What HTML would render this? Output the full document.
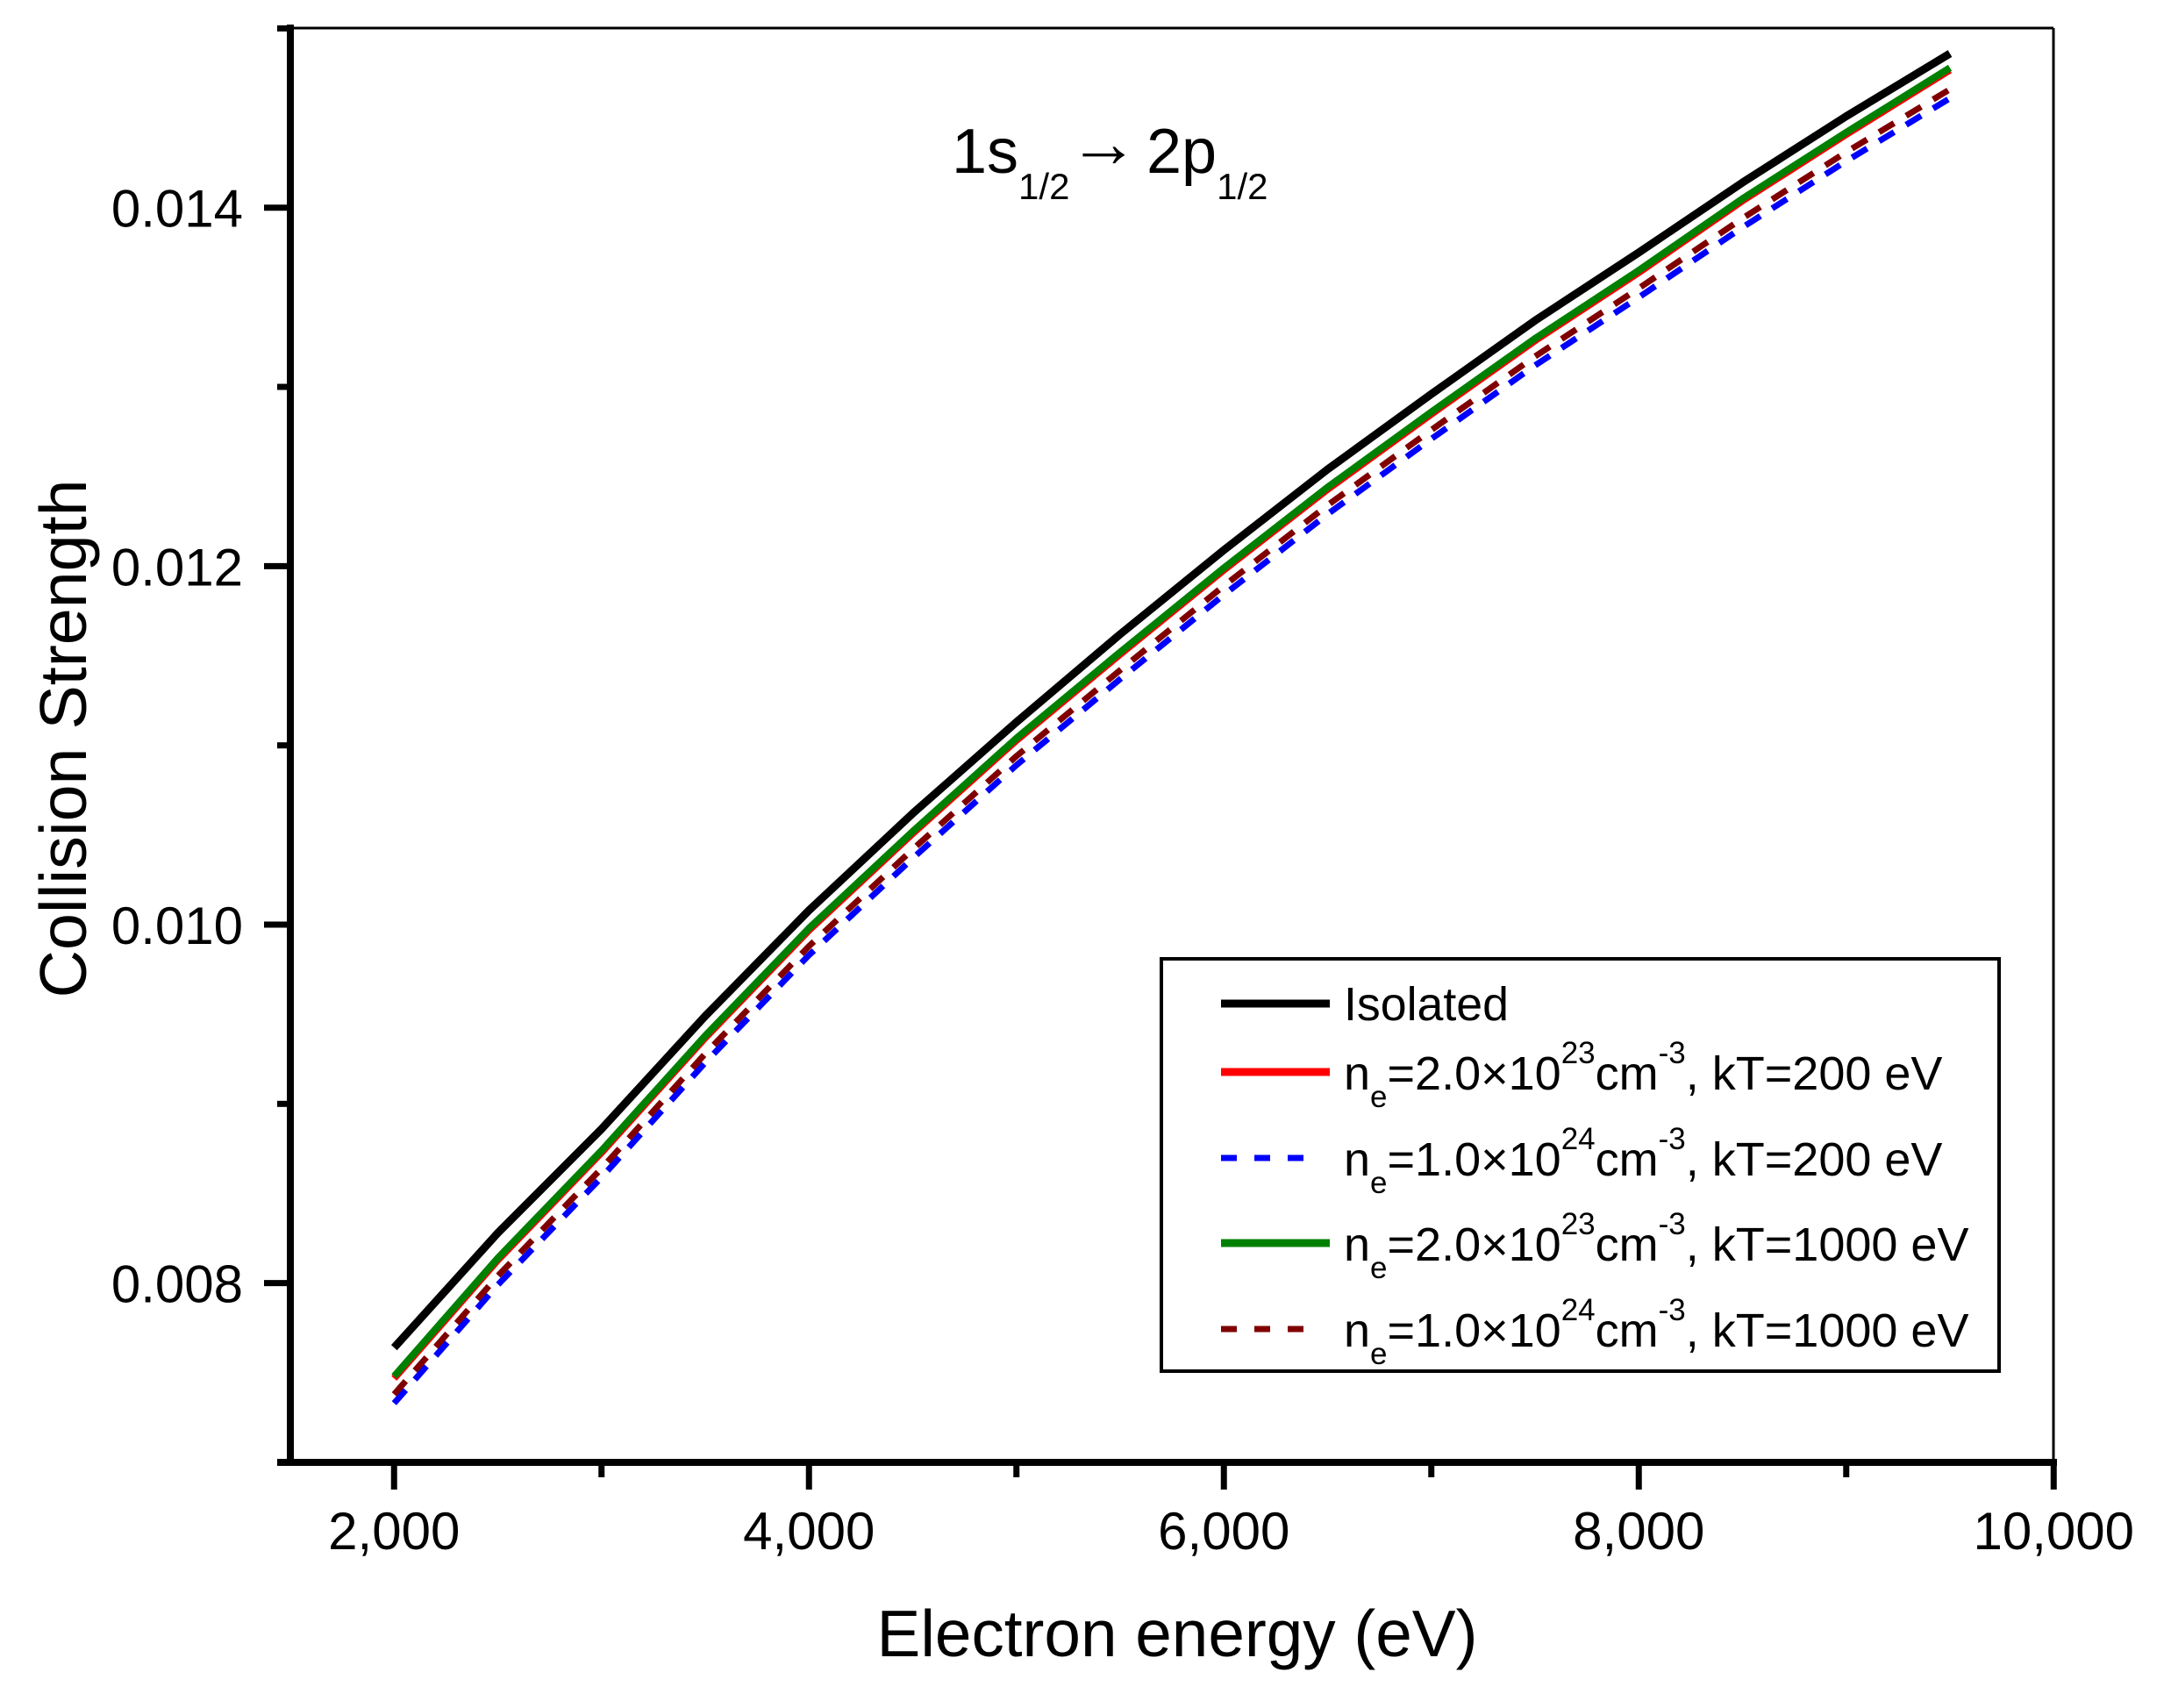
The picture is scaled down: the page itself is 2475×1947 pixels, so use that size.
<!DOCTYPE html>
<html><head><meta charset="utf-8"><style>
html,body{margin:0;padding:0;background:#fff;}
svg{display:block;}
text{font-family:"Liberation Sans",Arial,sans-serif;fill:#000;}
</style></head><body>
<svg id="s" width="2475" height="1947" viewBox="0 0 2475 1947" xmlns="http://www.w3.org/2000/svg">
<rect width="2475" height="1947" fill="#fff"/>
<line x1="331" y1="32" x2="2341" y2="32" stroke="#000" stroke-width="3"/>
<line x1="2341" y1="32" x2="2341" y2="1667" stroke="#000" stroke-width="3"/>
<g id="curves"></g>
<line x1="331" y1="28" x2="331" y2="1671" stroke="#000" stroke-width="8"/>
<line x1="316" y1="1667" x2="2345" y2="1667" stroke="#000" stroke-width="8"/>
<g id="ticks" stroke="#000" stroke-width="7"></g>
<g id="labels" font-size="60"></g>
<text x="1085" y="197" font-size="72">1s<tspan font-size="42" dy="30">1/2</tspan></text>
<text x="1218" y="190" font-size="80">→</text>
<text x="1307" y="197" font-size="72">2p<tspan font-size="42" dy="30">1/2</tspan></text>
<text x="1342" y="1888" font-size="75" text-anchor="middle" textLength="685" lengthAdjust="spacingAndGlyphs">Electron energy (eV)</text>
<text transform="translate(98,842) rotate(-90)" font-size="75" text-anchor="middle" textLength="591" lengthAdjust="spacingAndGlyphs">Collision Strength</text>
<rect x="1324" y="1093" width="955" height="470" fill="#fff" stroke="#000" stroke-width="4"/>
<line x1="1392" y1="1144" x2="1516" y2="1144" stroke="#000" stroke-width="9"/>
<line x1="1392" y1="1222" x2="1516" y2="1222" stroke="#ff0000" stroke-width="9"/>
<line x1="1392" y1="1320" x2="1490" y2="1320" stroke="#0000ff" stroke-width="7" stroke-dasharray="18 20"/>
<line x1="1392" y1="1417" x2="1516" y2="1417" stroke="#008000" stroke-width="9"/>
<line x1="1392" y1="1515" x2="1490" y2="1515" stroke="#800000" stroke-width="7" stroke-dasharray="18 20"/>
<g font-size="54">
<text x="1532" y="1163" textLength="188" lengthAdjust="spacingAndGlyphs">Isolated</text>
<text x="1532" y="1242">n<tspan font-size="35" dy="20">e</tspan><tspan dy="-20">=2.0×10</tspan><tspan font-size="35" dy="-30">23</tspan><tspan dy="30">cm</tspan><tspan font-size="35" dy="-30">-3</tspan><tspan dy="30">, kT=200 eV</tspan></text>
<text x="1532" y="1340">n<tspan font-size="35" dy="20">e</tspan><tspan dy="-20">=1.0×10</tspan><tspan font-size="35" dy="-30">24</tspan><tspan dy="30">cm</tspan><tspan font-size="35" dy="-30">-3</tspan><tspan dy="30">, kT=200 eV</tspan></text>
<text x="1532" y="1437">n<tspan font-size="35" dy="20">e</tspan><tspan dy="-20">=2.0×10</tspan><tspan font-size="35" dy="-30">23</tspan><tspan dy="30">cm</tspan><tspan font-size="35" dy="-30">-3</tspan><tspan dy="30">, kT=1000 eV</tspan></text>
<text x="1532" y="1535">n<tspan font-size="35" dy="20">e</tspan><tspan dy="-20">=1.0×10</tspan><tspan font-size="35" dy="-30">24</tspan><tspan dy="30">cm</tspan><tspan font-size="35" dy="-30">-3</tspan><tspan dy="30">, kT=1000 eV</tspan></text>
</g>
</svg>
<script>
(function(){
var NS="http://www.w3.org/2000/svg";
function X(k){return 331+(k-1.5)*236.5;}
function Y(v){return 1667-(v-0.007)*204330;}
var E=[2,2.5,3,3.5,4,4.5,5,5.5,6,6.5,7,7.5,8,8.5,9,9.5];
var iso=[.00764,.00828,.00886,.00949,.01008,.01062,.01113,.01162,.01209,.01254,.01296,.01337,.01375,.01414,.01451,.01486];
var g=[16,14,12,11,10,10,9,10,10,10,10,10,10,9,9,8];
var br=[26,24,22,21,20,20,19,20,20,20,20,20,20,20,20,20];
var bl=[31,29,27,26,25,25,24,25,25,25,25,25,25,25,25,25];
function pts(off,extra){return E.map(function(k,i){return X(k).toFixed(1)+","+Y(iso[i]-(off?off[i]:0)*1e-5-(extra||0)).toFixed(1);}).join(" ");}
var c=document.getElementById("curves");
function pl(p,col,w,dash){var e=document.createElementNS(NS,"polyline");e.setAttribute("points",p);e.setAttribute("fill","none");e.setAttribute("stroke",col);e.setAttribute("stroke-width",w);e.setAttribute("stroke-linejoin","round");if(dash)e.setAttribute("stroke-dasharray",dash);c.appendChild(e);}
pl(pts(bl),"#0000ff",7,"20 16");
pl(pts(br),"#800000",7,"20 16");
pl(pts(g,0.000012),"#ff0000",8);
pl(pts(g),"#008000",8);
pl(pts(null),"#000000",9);
var t=document.getElementById("ticks"),L=document.getElementById("labels");
function ln(x1,y1,x2,y2){var e=document.createElementNS(NS,"line");e.setAttribute("x1",x1);e.setAttribute("y1",y1);e.setAttribute("x2",x2);e.setAttribute("y2",y2);t.appendChild(e);}
function tx(x,y,s,a){var e=document.createElementNS(NS,"text");e.setAttribute("x",x);e.setAttribute("y",y);e.setAttribute("text-anchor",a);e.textContent=s;L.appendChild(e);}
for(var i=7;i<=15;i++){var y=Y(i/1000);if(i%2==0){ln(301,y,331,y);tx(277,y+22,"0.0"+(i<10?"0":"")+i,"end");}else ln(316,y,331,y);}
for(var k=2;k<=10;k++){var x=X(k);if(k%2==0){ln(x,1667,x,1698);tx(x,1766,k==10?"10,000":k+",000","middle");}else ln(x,1667,x,1684);}
})();
</script>
</body></html>
